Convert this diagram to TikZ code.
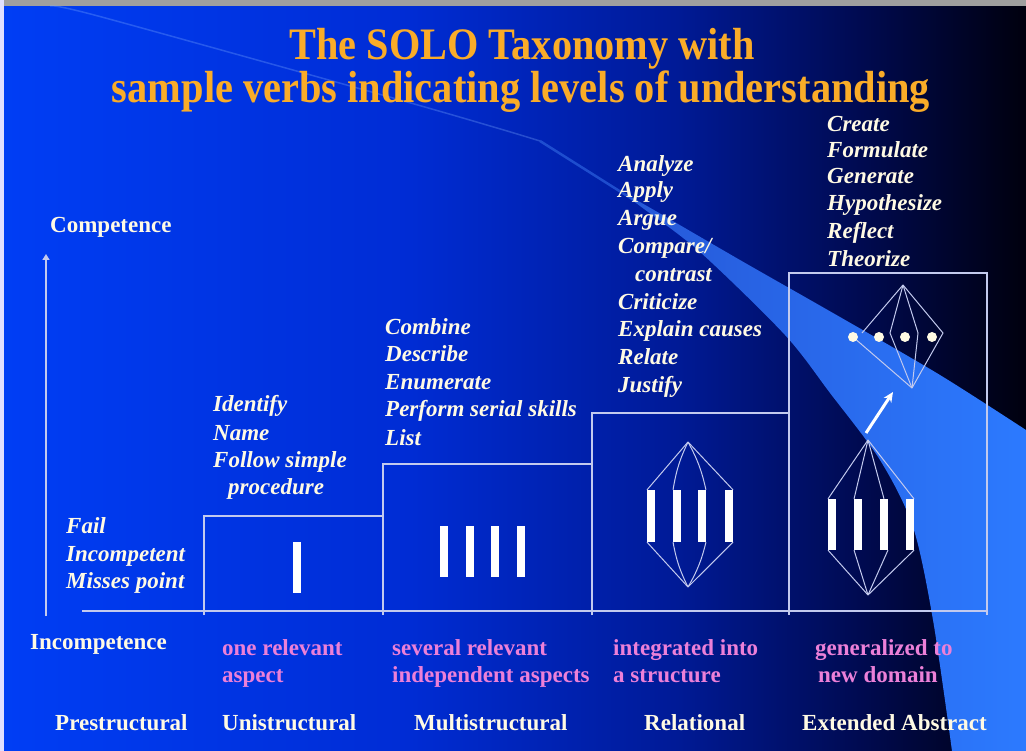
\documentclass[tikz,border=0pt]{standalone}
\usepackage{fontspec}
\usepackage{graphicx}
\setmainfont{Liberation Serif}
\usetikzlibrary{arrows.meta}
\definecolor{cream}{RGB}{255,250,228}
\definecolor{titleor}{RGB}{250,172,40}
\definecolor{pinkl}{RGB}{236,128,216}
\definecolor{linec}{RGB}{195,202,238}
\definecolor{swoosh}{RGB}{44,122,255}
\definecolor{swooshd}{RGB}{38,88,215}
\definecolor{bgA}{RGB}{0,62,245}
\definecolor{bgB}{RGB}{0,44,212}
\definecolor{bgC}{RGB}{0,26,150}
\definecolor{bgD}{RGB}{0,10,80}
\definecolor{bgE}{RGB}{0,0,14}
\pgfdeclarehorizontalshading{bgshade}{100bp}{color(0bp)=(bgA); color(25bp)=(bgA); color(45bp)=(bgB); color(58bp)=(bgC); color(67bp)=(bgD); color(75bp)=(bgE); color(100bp)=(bgE)}
\tikzset{
  verb/.style={font=\fontsize{23}{27}\selectfont\bfseries\itshape, text=cream, inner sep=0pt, anchor=base west},
  lab/.style={font=\fontsize{23}{27}\selectfont\bfseries, text=cream, inner sep=0pt, anchor=base west},
  pinklab/.style={lab, text=pinkl},
  ttl/.style={font=\fontsize{45}{50}\selectfont\bfseries, text=titleor, inner sep=0pt, anchor=base},
  boxline/.style={draw=linec, line width=1.4pt},
  thinl/.style={draw=linec, line width=1pt},
  bar/.style={fill=white, draw=none, minimum width=7.5pt, minimum height=51pt, inner sep=0pt},
  dotn/.style={circle, fill=cream, draw=none, minimum size=10pt, inner sep=0pt},
}
\begin{document}
\begin{tikzpicture}[x=1pt,y=-1pt]
\useasboundingbox (0,0) rectangle (1026,751);
% background
\shade[shading=bgshade] (0,0) rectangle (1026,751);
\fill[gray!75] (0,0) rectangle (1026,6);
\fill[white!88!blue] (0,0) rectangle (4,751);
% swoosh
\draw[swoosh!60!white, opacity=0.3, line width=1.5pt] plot[smooth] coordinates {(50,6) (98,16) (393,98) (497,128) (540,141)};
\draw[swooshd, opacity=0.8, line width=2.5pt] (540,141) -- (640,204);
\shade[left color=swooshd, right color=swoosh] plot[smooth] coordinates {(630,198) (640,202) (740,260) (840,317) (940,375) (1026,430)} -- (1026,751) -- (952,751) -- plot[smooth] coordinates {(952,751) (933,620) (913,527) (880,460) (830,393) (785,335) (700,252) (640,206) (630,198)} -- cycle;

% title
\node[ttl] (t1) at (522,60) {\resizebox{465pt}{\height}{The SOLO Taxonomy with}};
\node[ttl] (t2) at (521,103) {\resizebox{818pt}{\height}{sample verbs indicating levels of understanding}};

% axis
\coordinate (axb) at (46,616);
\coordinate (axt) at (46,254);
\draw[draw=linec, line width=2pt, -{Triangle[width=7pt,length=6pt]}] (axb) -- (axt);

% staircase
\coordinate (b0) at (82,611);
\coordinate (b5) at (987,611);
\draw[boxline] (b0) -- (b5);
\coordinate (u0) at (204,615); \coordinate (u1) at (204,516); \coordinate (u2) at (383,516);
\coordinate (m0) at (383,615); \coordinate (m1) at (383,464); \coordinate (m2) at (592,464);
\coordinate (r0) at (592,615); \coordinate (r1) at (592,413); \coordinate (r2) at (789,413);
\coordinate (e0) at (789,615); \coordinate (e1) at (789,273); \coordinate (e2) at (987,273); \coordinate (e3) at (987,615);
\draw[boxline] (u0) -- (u1) -- (u2);
\draw[boxline] (m0) -- (m1) -- (m2);
\draw[boxline] (r0) -- (r1) -- (r2);
\draw[boxline] (e0) -- (e1) -- (e2) -- (e3);

% unistructural bar
\node[bar] (ub) at (297,567.5) {};
% multistructural bars
\node[bar] (mb1) at (444,551.5) {};
\node[bar] (mb2) at (470,551.5) {};
\node[bar] (mb3) at (495,551.5) {};
\node[bar] (mb4) at (521,551.5) {};
% relational structure
\node[bar, minimum height=52pt] (rb1) at (651,516) {};
\node[bar, minimum height=52pt] (rb2) at (677,516) {};
\node[bar, minimum height=52pt] (rb3) at (702,516) {};
\node[bar, minimum height=52pt] (rb4) at (729,516) {};
\coordinate (rT) at (688,442);
\coordinate (rB) at (688,587);
\draw[thinl] (rT) -- (rb1.north west);
\draw[thinl] (rT) to[bend right=8] (rb2.north west);
\draw[thinl] (rT) to[bend left=8] (rb3.north east);
\draw[thinl] (rT) -- (rb4.north east);
\draw[thinl] (rB) -- (rb1.south west);
\draw[thinl] (rB) to[bend left=8] (rb2.south west);
\draw[thinl] (rB) to[bend right=8] (rb3.south east);
\draw[thinl] (rB) -- (rb4.south east);
% extended abstract: lower structure
\node[bar] (eb1) at (832,524.5) {};
\node[bar] (eb2) at (858,524.5) {};
\node[bar] (eb3) at (884,524.5) {};
\node[bar] (eb4) at (910,524.5) {};
\coordinate (lT) at (868,440);
\coordinate (lB) at (868,595);
\draw[thinl] (lT) -- (eb1.north west);
\draw[thinl] (lT) -- (eb2.north west);
\draw[thinl] (lT) -- (eb3.north);
\draw[thinl] (lT) -- (eb4.north east);
\draw[thinl] (lB) -- (eb1.south west);
\draw[thinl] (lB) -- (eb2.south west);
\draw[thinl] (lB) -- (eb3.south east);
\draw[thinl] (lB) -- (eb4.south east);
% arrow
\coordinate (aS) at (866,433);
\coordinate (aE) at (893,392);
\draw[white, line width=3pt, -{Stealth[length=10pt,width=9pt]}] (aS) -- (aE);
% extended abstract: upper structure
\coordinate (hT) at (903,285);
\coordinate (hB) at (912,388);
\coordinate (hL) at (862,333);
\coordinate (hM1) at (890,333);
\coordinate (hM2) at (918,333);
\coordinate (hR) at (943,333);
\draw[thinl] (hT) -- (hL);
\draw[thinl] (hT) -- (hM1) -- (hB);
\draw[thinl] (hT) -- (hM2) -- (hB);
\draw[thinl] (hT) -- (hR) -- (hB);
\node[dotn] (d1) at (853,337) {};
\node[dotn] (d2) at (879,337) {};
\node[dotn] (d3) at (905,337) {};
\node[dotn] (d4) at (932,337) {};
\draw[thinl] (d1) -- (hB);

% axis labels
\node[lab] (comp) at (50,233) {Competence};
\node[lab] (incomp) at (30,649) {Incompetence};

% prestructural verbs
\node[verb] (v01) at (66,533) {Fail};
\node[verb] (v02) at (66,561) {Incompetent};
\node[verb] (v03) at (66,588) {Misses point};
% unistructural verbs
\node[verb] (v11) at (213,412) {Identify};
\node[verb] (v12) at (213,440) {Name};
\node[verb] (v13) at (213,467) {Follow simple};
\node[verb] (v14) at (228,494) {procedure};
% multistructural verbs
\node[verb] (v21) at (385,335) {Combine};
\node[verb] (v22) at (385,362) {Describe};
\node[verb] (v23) at (385,390) {Enumerate};
\node[verb] (v24) at (385,417) {Perform serial skills};
\node[verb] (v25) at (385,445) {List};
% relational verbs
\node[verb] (v31) at (618,172) {Analyze};
\node[verb] (v32) at (618,198) {Apply};
\node[verb] (v33) at (618,226) {Argue};
\node[verb] (v34) at (618,254) {Compare/};
\node[verb] (v35) at (635,282) {contrast};
\node[verb] (v36) at (618,310) {Criticize};
\node[verb] (v37) at (618,337) {Explain causes};
\node[verb] (v38) at (618,365) {Relate};
\node[verb] (v39) at (618,392) {Justify};
% extended abstract verbs
\node[verb] (v41) at (827,132) {Create};
\node[verb] (v42) at (827,158) {Formulate};
\node[verb] (v43) at (827,184) {Generate};
\node[verb] (v44) at (827,211) {Hypothesize};
\node[verb] (v45) at (827,239) {Reflect};
\node[verb] (v46) at (827,267) {Theorize};

% descriptions
\node[pinklab] (p11) at (222,655) {one relevant};
\node[pinklab] (p12) at (222,682) {aspect};
\node[pinklab] (p21) at (392,655) {several relevant};
\node[pinklab] (p22) at (392,682) {independent aspects};
\node[pinklab] (p31) at (613,655) {integrated into};
\node[pinklab] (p32) at (613,682) {a structure};
\node[pinklab] (p41) at (815,655) {generalized to};
\node[pinklab] (p42) at (818,682) {new domain};

% level names
\node[lab] (n0) at (55,730) {Prestructural};
\node[lab] (n1) at (222,730) {Unistructural};
\node[lab] (n2) at (414,730) {Multistructural};
\node[lab] (n3) at (644,730) {Relational};
\node[lab] (n4) at (802,730) {Extended Abstract};
\end{tikzpicture}
\end{document}
